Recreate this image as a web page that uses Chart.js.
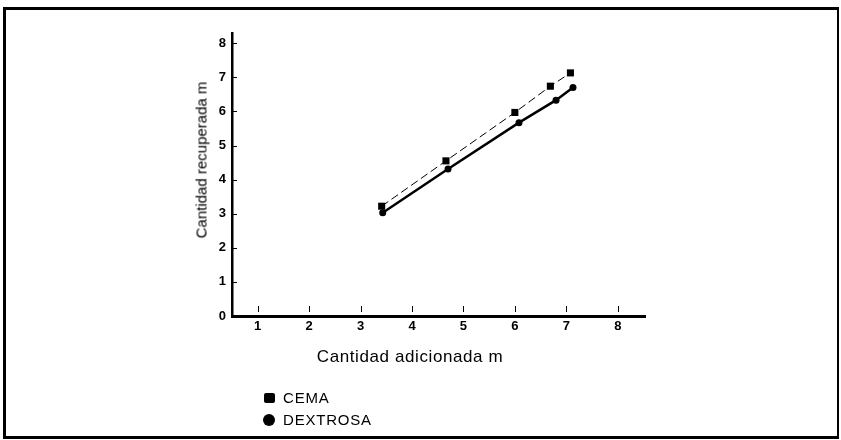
<!DOCTYPE html>
<html>
<head>
<meta charset="utf-8">
<script src="https://cdn.jsdelivr.net/npm/chart.js@4"></script>
<style>
    body {
        margin: 0;
        background: #fff;
        font-family: "Liberation Sans", Arial, sans-serif;
    }
    #wrap {
        position: relative;
        width: 841px;
        height: 440px;
        overflow: hidden;
    }
    #frame {
        position: absolute;
        left: 3px;
        top: 7px;
        width: 831px;
        height: 426px;
        border: 3px solid #000;
        border-right-width: 2px;
    }
    #soilChart {
        position: absolute;
        left: 0;
        top: 0;
    }
    .axis-title {
        position: absolute;
        color: #000;
        white-space: nowrap;
    }
    #xTitle {
        left: 410px;
        top: 357px;
        font-size: 17px;
        letter-spacing: 0.6px;
        transform: translate(-50%, -50%);
    }
    #yTitle {
        left: 201px;
        top: 160px;
        font-size: 15px;
        transform: translate(-50%, -50%) rotate(-90deg);
    }
    .legend-item {
        position: absolute;
        left: 263px;
        font-size: 15px;
        letter-spacing: 0.8px;
        color: #000;
        display: flex;
        align-items: center;
    }
    .legend-item .mark {
        display: inline-block;
        background: #000;
        margin-right: 8px;
    }
    #legendCema { top: 389px; }
    #legendCema .mark { width: 11px; height: 10px; border-radius: 2px; margin-left: 1px; }
    #legendDex { top: 411px; }
    #legendDex .mark { width: 12px; height: 12px; border-radius: 50%; }
</style>
</head>
<body>
<div id="wrap">
    <div id="frame"></div>
    <canvas id="soilChart" width="841" height="440"></canvas>
    <div class="axis-title" id="xTitle">Cantidad adicionada m</div>
    <div class="axis-title" id="yTitle">Cantidad recuperada m</div>
    <div class="legend-item" id="legendCema"><span class="mark"></span>CEMA</div>
    <div class="legend-item" id="legendDex"><span class="mark"></span>DEXTROSA</div>
</div>
<script>
// values
const cemaX = [3.41, 4.66, 6.0, 6.69, 7.08]
const cemaY = [3.22, 4.55, 5.97, 6.74, 7.13]

const dexX = [3.43, 4.70, 6.08, 6.80, 7.13]
const dexY = [3.03, 4.31, 5.67, 6.33, 6.70]

const xTicks = [1, 2, 3, 4, 5, 6, 7, 8]
const yTicks = [0, 1, 2, 3, 4, 5, 6, 7, 8]

function toPoints(xs, ys) {
    return xs.map((x, i) => ({ x: x, y: ys[i] }))
}

// short tick marks drawn inside the axes, like the original
const innerTicks = {
    id: "innerTicks",
    afterDraw(chart) {
        const ctx = chart.ctx
        const area = chart.chartArea
        const xScale = chart.scales.x
        const yScale = chart.scales.y

        ctx.save()
        ctx.strokeStyle = "#000"
        ctx.lineWidth = 1

        yTicks.forEach(v => {
            if (v === 0) return
            const py = Math.round(yScale.getPixelForValue(v)) + 0.5
            ctx.beginPath()
            ctx.moveTo(area.left, py)
            ctx.lineTo(area.left + 5, py)
            ctx.stroke()
        })

        xTicks.forEach(v => {
            const px = Math.round(xScale.getPixelForValue(v)) + 0.5
            ctx.beginPath()
            ctx.moveTo(px, area.bottom - 4)
            ctx.lineTo(px, area.bottom - 10)
            ctx.stroke()
        })

        ctx.restore()
    }
}

const tickFont = {
    family: "'Liberation Sans', Arial, sans-serif",
    size: 13,
    weight: "bold"
}

const ctx = document.getElementById("soilChart").getContext("2d")

const chart = new Chart(ctx, {
    type: "scatter",

    data: {
        datasets: [
            {
                label: "CEMA",
                data: toPoints(cemaX, cemaY),
                showLine: true,
                borderColor: "#000",
                backgroundColor: "#000",
                borderWidth: 1,
                borderDash: [8, 4],
                pointStyle: "rect",
                pointRadius: 5,
                pointBorderWidth: 0
            },
            {
                label: "DEXTROSA",
                data: toPoints(dexX, dexY),
                showLine: true,
                borderColor: "#000",
                backgroundColor: "#000",
                borderWidth: 2.5,
                pointStyle: "circle",
                pointRadius: 3.5,
                pointBorderWidth: 0
            }
        ]
    },

    options: {
        responsive: false,
        animation: false,

        layout: {
            padding: { left: 202, right: 196, top: 33, bottom: 94 }
        },

        plugins: {
            legend: { display: false },
            tooltip: { enabled: false }
        },

        scales: {
            x: {
                type: "linear",
                min: 0.5,
                max: 8.53,
                afterBuildTicks: scale => {
                    scale.ticks = xTicks.map(v => ({ value: v }))
                },
                afterFit: scale => {
                    scale.height = 30
                },
                grid: {
                    drawOnChartArea: false,
                    drawTicks: false,
                    color: "rgba(0,0,0,0)"
                },
                border: { display: true, color: "#000", width: 3 },
                ticks: {
                    color: "#000",
                    font: tickFont,
                    padding: 3,
                    maxRotation: 0
                }
            },
            y: {
                type: "linear",
                min: 0,
                max: 8.3,
                afterBuildTicks: scale => {
                    scale.ticks = yTicks.map(v => ({ value: v }))
                },
                afterFit: scale => {
                    scale.width = 30
                },
                grid: {
                    drawOnChartArea: false,
                    drawTicks: false,
                    color: "rgba(0,0,0,0)"
                },
                border: { display: true, color: "#000", width: 2.5 },
                ticks: {
                    color: "#000",
                    font: tickFont,
                    padding: 6
                }
            }
        }
    },

    plugins: [innerTicks]
})
</script>
</body>
</html>
